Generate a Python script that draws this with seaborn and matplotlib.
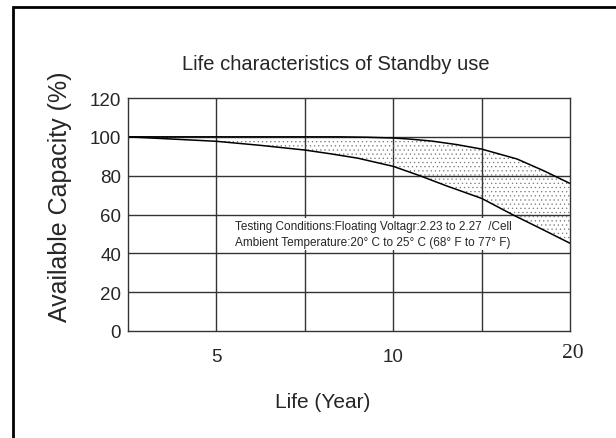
import numpy as np
import pandas as pd
import matplotlib
matplotlib.use("Agg")
import matplotlib.pyplot as plt
import seaborn as sns
from matplotlib.patches import Rectangle

# values (x in axis units: right edge is labelled "20")
upper_x = [2.5, 5.0, 7.5, 8.5, 9.25, 10.0, 10.5, 11.1, 11.8, 12.5, 13.5, 14.25, 15.0]
upper_y = [100, 100, 100, 100, 99.8, 99.4, 98.8, 97.8, 96.0, 93.7, 88.6, 82.6, 76.0]
lower_x = [2.5, 5.0, 6.25, 7.5, 8.25, 9.0, 10.0, 10.75, 11.5, 12.5, 13.4, 14.2, 15.0]
lower_y = [100, 97.7, 95.6, 93.2, 91.2, 89.0, 84.8, 80.0, 74.8, 68.3, 59.7, 52.5, 45.2]

y_ticks = [0, 20, 40, 60, 80, 100, 120]
x_grid = [5, 7.5, 10, 12.5]
x_tick_pos = [5, 10, 15]
x_tick_labels = ["5", "10", "20"]

note_lines = ["Testing Conditions:Floating Voltagr:2.23 to 2.27  /Cell",
              "Ambient Temperature:20\u00b0 C to 25\u00b0 C (68\u00b0 F to 77\u00b0 F)"]

sns.set_style("white")
plt.rcParams["font.family"] = ["Liberation Sans", "DejaVu Sans"]
plt.rcParams["font.serif"] = ["Liberation Serif", "DejaVu Serif", "Times New Roman"]

fig = plt.figure(figsize=(6.16, 4.39), dpi=100)
ax = fig.add_axes([128 / 616, 1 - 332 / 439, 442 / 616, 233 / 439])

# outer frame (left and top visible)
fig.patches.append(Rectangle((13 / 616, -0.1), 1.2, 1 - 8 / 439 + 0.1,
                             transform=fig.transFigure, fill=False,
                             edgecolor="black", linewidth=2))

up = pd.DataFrame({"x": upper_x, "y": upper_y})
lo = pd.DataFrame({"x": lower_x, "y": lower_y})

# dotted band between the two curves
grid_x = np.linspace(2.5, 15, 200)
top_i = np.interp(grid_x, upper_x, upper_y)
bot_i = np.interp(grid_x, lower_x, lower_y)
plt.rcParams["hatch.linewidth"] = 0.4
plt.rcParams["hatch.color"] = "#777777"
ax.fill_between(grid_x, bot_i, top_i, facecolor="none", edgecolor="#777777",
                hatch="....", linewidth=0)

sns.lineplot(data=up, x="x", y="y", ax=ax, color="black", linewidth=1.1)
sns.lineplot(data=lo, x="x", y="y", ax=ax, color="black", linewidth=1.1)

for v in y_ticks[1:-1]:
    ax.axhline(v, color="#333333", linewidth=1.0, zorder=0)
for v in x_grid:
    ax.axvline(v, color="#333333", linewidth=1.0, zorder=0)

ax.set_xlim(2.5, 15)
ax.set_ylim(0, 120)
ax.set_yticks(y_ticks)
ax.set_yticklabels([str(v) for v in y_ticks], fontsize=13.5)
# the right-hand "20" is set in a serif face, a bit higher, in the original
ax.set_xticks(x_tick_pos[:-1])
ax.set_xticklabels(x_tick_labels[:-1], fontsize=13.5)
ax.text(x_tick_pos[-1] + 0.08, -11, x_tick_labels[-1], ha="center", va="center",
        family="serif", fontsize=15.5, clip_on=False)
ax.tick_params(length=0, pad=12)
ax.tick_params(axis="y", pad=5)
ax.set_xlabel("")
ax.set_ylabel("")
for s in ax.spines.values():
    s.set_color("#333333")
    s.set_linewidth(1.0)

ax.text(9.43, 50, "\n".join(note_lines), ha="center", va="center",
        fontsize=8.5, linespacing=1.5,
        bbox=dict(facecolor="white", edgecolor="none", pad=1.5))

fig.text(336 / 616, 1 - 65 / 439, "Life characteristics of Standby use",
         ha="center", va="center", fontsize=14.5)
fig.text(323 / 616, 1 - 403 / 439, "Life (Year)", ha="center", va="center",
         fontsize=15)
fig.text(60 / 616, 1 - 197 / 439, "Available Capacity (%)", ha="center",
         va="center", rotation=90, fontsize=18)

fig.savefig("out.png", dpi=100)
